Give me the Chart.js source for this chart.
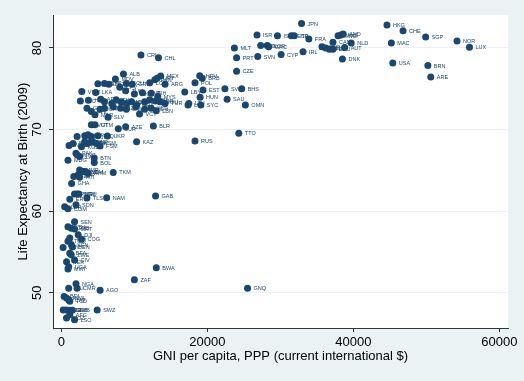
<!DOCTYPE html>
<html>
<head>
<meta charset="utf-8">
<script src="https://cdn.jsdelivr.net/npm/chart.js@4.4.1/dist/chart.umd.min.js"></script>
<style>
  html, body { margin: 0; padding: 0; background: #EAF2F3; }
  #c { display: block; }
</style>
</head>
<body>
<canvas id="c" width="524" height="381"></canvas>
<script>
// Country codes (marker labels)
const codes = [
  "JPN","HKG","CHE","SGP","NOR","LUX","MAC","USA","BRN","ARE",
  "ISR","ISL","ESP","ITA","FRA","SWE","AUS","AND","CAN","NLD",
  "AUT","DNK","GBR","BEL","FIN","DEU","MLT","PRT","SVN","CYP",
  "IRL","NZL","KOR","GRC","CZE","TTO","RUS","OMN","SAU","SVK",
  "BHS","EST","HUN","SYC","LBY","POL","HRV","BRB","LVA","LTU",
  "CRI","CHL","ALB","MDV","BLZ","PSE","SYR","ECU","GRD","LCA",
  "PAN","URY","MEX","ARG","VNM","LKA","TUN","MKD","MNE","BIH",
  "NIC","HND","ARM","EGY","CHN","THA","DOM","PER","COL","BRA",
  "SRB","VEN","BGR","ROU","TUR","MYS","GEO","PHL","MAR","JOR",
  "TON","JAM","DZA","DMA","IRN","VCT","MUS","KNA","LBN","SLV",
  "VUT","GTM","SUR","AZE","BLR","UKR","KAZ","CPV",
  "UZB","IDN","GUY","FJI","IRQ","NPL","BGD","KGZ","MDA","TJK",
  "PRK","KIR","WSM","FSM","PAK","MNG","LAO","MDG","BTN","BOL",
  "MMR","IND","YEM","KHM","TKM","SLB","STP","HTI","GHA","PNG",
  "SOM","NRU","ERI","TLS","NAM","GAB","LBR","COM","SDN","SEN",
  "ETH","GMB","MRT","DJI","COG","TZA","TGO","KEN","BEN","GIN",
  "BFA","ZWE","CIV","NER","UGA","MWI","NGA","CMR","MLI","BDI",
  "RWA","CAF","TCD","COD","SLE","GNB","ZMB","MOZ","AFG","LSO",
  "SWZ","AGO","ZAF","BWA","GNQ"
];

// GNI per capita, PPP (current international $)
const gni = [
  32900,44600,46800,49900,54200,55900,45200,45400,50200,50600,
  26800,29600,31500,31900,33900,37900,38300,38600,37200,39700,
  38800,38500,35700,36200,36700,37200,23700,24000,26900,30100,
  33100,27300,28200,28400,24000,24300,18300,25200,22700,22400,
  24700,19400,19000,19100,16900,18300,18950,19300,17350,17450,
  10900,13300,8500,7400,6500,5000,5900,8900,9700,12100,
  12800,13100,13600,14200,2800,4700,8800,10000,11100,12300,
  2600,3700,5400,5900,6900,7500,8200,8900,9600,10300,
  11400,12100,12900,13500,14200,13200,3500,4100,4600,5300,
  5900,7100,8100,8900,10200,10700,11400,12300,13000,6400,
  4100,4600,7800,8800,12600,6300,10300,8000,
  2150,3200,3650,4100,5000,1050,1600,2750,3200,3500,
  3900,4300,4800,5300,2000,2150,2500,900,4500,4500,
  2500,3000,3300,3650,7100,1700,2300,2500,1400,1800,
  2150,2400,1150,3500,6200,12900,450,900,2000,1800,
  900,1350,1800,2300,2750,1150,900,1350,1500,230,
  1150,1350,1800,700,1000,900,2000,2150,1000,370,
  700,1000,1150,250,700,1150,1500,700,1150,1800,
  4900,5300,10000,13000,25500
];

// Life expectancy at birth (2009), years
const lifeExp = [
  83.0,82.8,82.1,81.35,80.85,80.1,80.6,78.15,77.85,76.45,
  81.6,81.5,81.5,81.5,81.1,81.5,81.6,81.7,80.7,80.6,
  80.05,78.65,80.15,80.0,79.85,79.85,80.0,78.8,78.95,79.2,
  79.55,80.3,80.3,80.15,77.15,69.55,68.6,73.0,73.7,75.0,
  75.0,74.85,73.95,73.0,74.6,75.75,76.6,76.3,73.0,73.2,
  79.15,78.8,76.8,76.2,75.55,75.6,75.65,75.65,75.55,75.75,
  76.1,76.3,76.55,75.55,74.65,74.55,74.75,74.35,74.5,74.45,
  73.5,73.6,73.7,73.4,73.2,73.65,73.4,73.2,73.4,73.0,
  73.4,73.65,73.5,73.4,73.2,74.05,72.6,72.2,71.8,72.5,
  72.6,72.8,72.6,72.5,72.8,71.9,72.5,72.6,72.3,71.5,
  70.6,70.6,70.1,70.35,70.45,69.2,68.5,75.2,
  69.15,69.25,69.35,69.15,69.25,68.05,68.3,67.9,68.5,68.3,
  68.4,68.5,68.3,68.0,67.1,66.9,66.7,66.25,66.5,65.95,
  65.05,64.85,64.85,64.65,64.75,64.25,64.45,64.15,63.4,62.1,
  62.1,62.1,61.45,61.6,61.65,61.85,60.55,60.3,60.8,58.7,
  58.1,57.9,57.8,57.1,56.55,56.7,56.3,55.9,55.6,55.55,
  54.85,54.65,54.0,53.8,53.2,52.9,51.1,50.55,50.55,49.55,
  49.35,49.15,48.95,47.9,47.9,47.85,47.85,46.9,47.3,46.7,
  47.9,50.3,51.6,53.05,50.55
];

// Axis ticks
const xTicks = [0, 20000, 40000, 60000];
const yTicks = [50, 60, 70, 80];

const NAVY = '#1A476F';
const BG = '#EAF2F3';

Chart.defaults.font.family = '"Liberation Sans", Arial, Helvetica, sans-serif';
Chart.defaults.color = '#000';

const backgroundPlugin = {
  id: 'bg',
  beforeDraw(chart) {
    const { ctx, chartArea: a } = chart;
    ctx.save();
    ctx.fillStyle = BG;
    ctx.fillRect(0, 0, chart.width, chart.height);
    ctx.fillStyle = '#FFFFFF';
    ctx.fillRect(a.left, a.top, a.right - a.left, a.bottom - a.top);
    ctx.restore();
  }
};

const labelPlugin = {
  id: 'pointLabels',
  afterDatasetsDraw(chart) {
    const { ctx } = chart;
    const meta = chart.getDatasetMeta(0);
    ctx.save();
    ctx.font = '5.5px "Liberation Sans", Arial, sans-serif';
    ctx.fillStyle = NAVY;
    ctx.textBaseline = 'middle';
    ctx.textAlign = 'left';
    meta.data.forEach((el, i) => {
      ctx.fillText(codes[i], el.x + 6, el.y + 0.5);
    });
    ctx.restore();
  }
};

const points = gni.map((g, i) => ({ x: g, y: lifeExp[i] }));

new Chart(document.getElementById('c'), {
  type: 'scatter',
  data: {
    datasets: [{
      data: points,
      backgroundColor: NAVY,
      borderWidth: 0,
      pointRadius: 3.5,
      pointHoverRadius: 3.5
    }]
  },
  options: {
    responsive: false,
    animation: false,
    layout: { padding: { top: 15, right: 16, left: 0, bottom: 0 } },
    plugins: { legend: { display: false }, tooltip: { enabled: false } },
    scales: {
      x: {
        type: 'linear',
        min: -1150,
        max: 61180,
        afterBuildTicks(scale) { scale.ticks = xTicks.map(v => ({ value: v })); },
        afterFit(scale) { scale.height = 53; },
        ticks: {
          font: { size: 13 },
          padding: 3,
          maxRotation: 0,
          minRotation: 0,
          callback: v => String(v)
        },
        grid: { drawOnChartArea: false, drawTicks: true, tickLength: 4, tickColor: '#333', tickWidth: 1 },
        border: { display: true, color: '#333', width: 1 },
        title: {
          display: true,
          text: 'GNI per capita, PPP (current international $)',
          font: { size: 13 },
          color: '#000',
          padding: { top: 0, bottom: 16.5 }
        }
      },
      y: {
        type: 'linear',
        min: 45.68,
        max: 84.04,
        afterBuildTicks(scale) { scale.ticks = yTicks.map(v => ({ value: v })); },
        afterFit(scale) { scale.width = 53; },
        ticks: {
          font: { size: 13 },
          padding: 4,
          minRotation: 90,
          maxRotation: 90,
          crossAlign: 'center',
          callback: v => String(v)
        },
        grid: { color: BG, lineWidth: 1, drawTicks: true, tickLength: 4, tickColor: '#333', tickWidth: 1 },
        border: { display: true, color: '#333', width: 1 },
        title: {
          display: true,
          text: 'Life Expectancy at Birth (2009)',
          font: { size: 13 },
          color: '#000',
          padding: { top: 15.5, bottom: 0 }
        }
      }
    }
  },
  plugins: [backgroundPlugin, labelPlugin]
});
</script>
</body>
</html>
